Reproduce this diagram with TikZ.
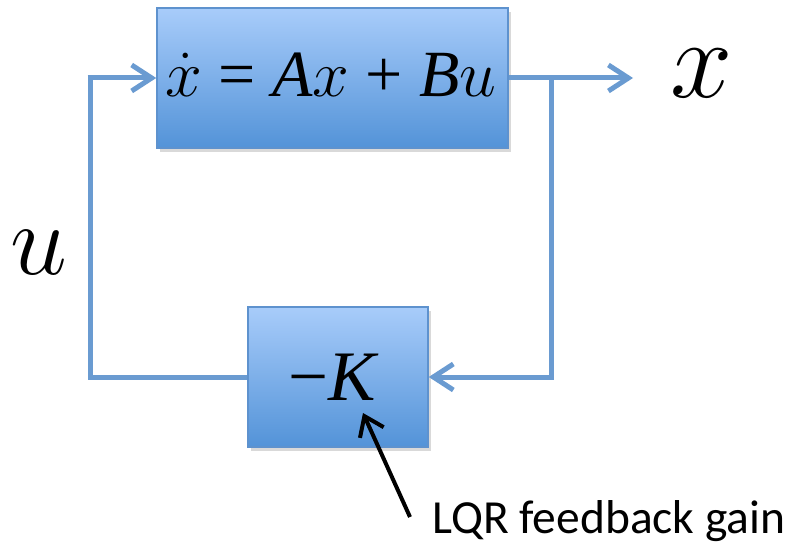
\RequirePackage{fix-cm}
\documentclass[tikz,border=0pt]{standalone}
\usepackage{fontspec}
\setmainfont{Liberation Serif}
\newfontfamily\calib{Carlito}
\usetikzlibrary{arrows.meta,shadows}
\definecolor{boxtop}{HTML}{A8CCFA}
\definecolor{boxbot}{HTML}{5393D8}
\definecolor{boxedge}{HTML}{5E92CE}
\definecolor{wire}{HTML}{6A9BD1}
\tikzset{
  blockbox/.style={rectangle, draw=boxedge, line width=1.5bp, top color=boxtop, bottom color=boxbot,
    drop shadow={opacity=0.3, shadow xshift=3bp, shadow yshift=-4bp}, inner sep=0pt},
  wireline/.style={draw=wire, line width=5bp},
  wirearrow/.style={wireline, -{Straight Barb[length=20bp,width=26bp,line width=5bp]}},
  mathlbl/.style={anchor=base, inner sep=0pt},
}
\begin{document}
\begin{tikzpicture}[x=1bp,y=-1bp]
\useasboundingbox (0,0) rectangle (790,545);
\node[blockbox, minimum width=351bp, minimum height=140bp] (sys) at (332.5,78) {};
\node[blockbox, minimum width=180bp, minimum height=140bp] (gain) at (338,377) {};
\node[mathlbl] (eq) at (331,97) {\fontsize{66bp}{80bp}\selectfont
  $\dot{x}$ = \textit{A}$x$ + \textit{B}$u$};
\node[mathlbl] (kk) at (334,400) {\fontsize{71bp}{80bp}\selectfont −\textit{K}};
\node[mathlbl] (xo) at (702,98) {\fontsize{112bp}{120bp}\selectfont $x$};
\node[mathlbl] (uu) at (39,275) {\fontsize{102bp}{120bp}\selectfont $u$};
\node[anchor=base west, inner sep=0pt] (lqr) at (432,533) {\calib\fontsize{47.5bp}{56bp}\selectfont LQR feedback gain};
\coordinate (ul) at (90,377);
\coordinate (tl) at (90,78);
\coordinate (br) at (551,78);
\coordinate (bb) at (551,377);
\coordinate (xend) at (633,78);
\coordinate (lqrtail) at (410,517);
\coordinate (lqrtip) at (363,413);
\draw[wireline, line join=miter] (gain.west) -- (ul) -- (tl);
\draw[wirearrow] ([xshift=-2.5bp]tl) -- (sys.west);
\draw[wirearrow] (sys.east) -- (xend);
\draw[wireline] (br) -- (bb);
\draw[wirearrow] ([xshift=2.5bp]bb) -- (gain.east);
\draw[line width=4bp, -{Straight Barb[length=18bp,width=26bp,line width=4bp]}] (lqrtail) -- (lqrtip);
\end{tikzpicture}
\end{document}
